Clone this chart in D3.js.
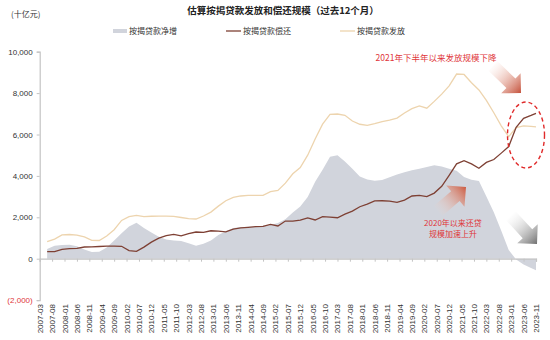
<!DOCTYPE html>
<html><head><meta charset="utf-8">
<script src="https://cdn.jsdelivr.net/npm/d3@7"></script>
<style>
body{margin:0;background:#fff;}
svg{display:block;font-family:"Liberation Sans","Noto Sans CJK SC",sans-serif;}
.cjk{font-family:"Noto Sans CJK SC","Liberation Sans",sans-serif;}
</style></head>
<body><svg id="c" width="550" height="340"></svg>
<script>
// ---------- data (十亿元, past-12-month sums, quarterly) ----------
const dates = ["2007-06","2007-09","2007-12","2008-03","2008-06","2008-09","2008-12","2009-03","2009-06","2009-09","2009-12",
"2010-03","2010-06","2010-09","2010-12","2011-03","2011-06","2011-09","2011-12","2012-03","2012-06","2012-09","2012-12",
"2013-03","2013-06","2013-09","2013-12","2014-03","2014-06","2014-09","2014-12","2015-03","2015-06","2015-09","2015-12",
"2016-03","2016-06","2016-09","2016-12","2017-03","2017-06","2017-09","2017-12","2018-03","2018-06","2018-09","2018-12",
"2019-03","2019-06","2019-09","2019-12","2020-03","2020-06","2020-09","2020-12","2021-03","2021-06","2021-09","2021-12",
"2022-03","2022-06","2022-09","2022-12","2023-03","2023-06","2023-09","2023-11"];
const netIncrease = [469,620,660,670,600,450,320,330,540,880,1230,1560,1740,1480,1260,1060,930,880,860,750,630,720,880,
1150,1330,1480,1520,1546,1560,1590,1630,1720,1900,2230,2520,2980,3720,4300,4927,4994,4690,4350,3970,3830,3760,3800,3930,
4070,4180,4270,4350,4430,4510,4450,4340,4250,3950,3810,3750,3000,2250,1350,420,-40,-280,-450,-560];
const repayment = [338,338,450,490,500,565,570,590,605,610,600,390,355,560,800,990,1120,1175,1100,1210,1290,1270,1350,
1335,1300,1430,1490,1515,1545,1560,1660,1580,1820,1820,1865,1975,1870,2030,2010,1980,2155,2300,2510,2635,2790,2800,2785,
2720,2830,3030,3060,3000,3170,3500,4030,4580,4735,4580,4370,4650,4790,5100,5420,6350,6780,6920,7020];
const issuance = [821,950,1150,1170,1140,1050,890,880,1100,1400,1850,2030,2096,2030,2050,2060,2055,2046,1990,1940,1917,2062,2250,
2540,2800,2960,3030,3060,3060,3060,3236,3300,3650,4100,4400,5000,5780,6500,6975,6990,6930,6650,6495,6445,6520,6620,6695,
6790,7040,7250,7380,7270,7600,7950,8350,8921,8900,8500,8150,7650,7050,6420,5900,6330,6420,6390,6370];

const seriesNames = ["按揭贷款净增","按揭贷款偿还","按揭贷款发放"];
const yTickValues = [-2000,0,2000,4000,6000,8000,10000];
const yTickLabels = ["(2,000)","0","2,000","4,000","6,000","8,000","10,000"];
const xTickLabels = ["2007-03","2007-08","2008-01","2008-06","2008-11","2009-04","2009-09","2010-02","2010-07","2010-12",
"2011-05","2011-10","2012-03","2012-08","2013-01","2013-06","2013-11","2014-04","2014-09","2015-02","2015-07","2015-12",
"2016-05","2016-10","2017-03","2017-08","2018-01","2018-06","2018-11","2019-04","2019-09","2020-02","2020-07","2020-12",
"2021-05","2021-10","2022-03","2022-08","2023-01","2023-06","2023-11"];
const title = "估算按揭贷款发放和偿还规模（过去12个月）";
const unitLabel = "(十亿元)";
const note1 = "2021年下半年以来发放规模下降";
const note2 = ["2020年以来还贷","规模加速上升"];

// ---------- setup ----------
const svg = d3.select("#c");
const defs = svg.append("defs");
const monthIndex = s => { const [y,m] = s.split("-").map(Number); return (y-2007)*12 + (m-3); };
const x = d3.scaleLinear().domain([0,200]).range([39.7,536]);
const y = d3.scaleLinear().domain([-2000,10000]).range([300.1,51.7]);

const colArea = "#d1d4dc", colRepay = "#7e4034", colIssue = "#edd4ae", red = "#e0353a";

// title
svg.append("text").attr("class","cjk").attr("x",283).attr("y",14).attr("text-anchor","middle")
  .attr("font-size",9.5).attr("font-weight","bold").attr("fill","#222").text(title);
svg.append("text").attr("class","cjk").attr("x",11).attr("y",17)
  .attr("font-size",8).attr("fill","#333").text(unitLabel);

// legend
const lg = svg.append("g").attr("class","cjk").attr("font-size",8).attr("fill","#333");
lg.append("rect").attr("x",113).attr("y",29).attr("width",14).attr("height",4).attr("fill",colArea);
lg.append("text").attr("x",129).attr("y",34).text(seriesNames[0]);
lg.append("line").attr("x1",226).attr("x2",241).attr("y1",31).attr("y2",31).attr("stroke",colRepay).attr("stroke-width",1.3);
lg.append("text").attr("x",243).attr("y",34).text(seriesNames[1]);
lg.append("line").attr("x1",340).attr("x2",355).attr("y1",31).attr("y2",31).attr("stroke",colIssue).attr("stroke-width",1.3);
lg.append("text").attr("x",357).attr("y",34).text(seriesNames[2]);

// area
const pts = dates.map((d,i)=>({m:monthIndex(d), net:netIncrease[i], rep:repayment[i], iss:issuance[i]}));
svg.append("path").datum(pts).attr("fill",colArea)
  .attr("d", d3.area().x(d=>x(d.m)).y0(y(0)).y1(d=>y(d.net)));

// y axis
const ya = svg.append("g").attr("transform",`translate(${x(0)},0)`)
  .call(d3.axisLeft(y).tickValues(yTickValues).tickSize(3).tickPadding(4)
    .tickFormat((d,i)=>yTickLabels[i]));
ya.select(".domain").attr("stroke","#c4c4c4").attr("stroke-width",1.2);
ya.selectAll(".tick line").attr("stroke","#c4c4c4");
ya.selectAll(".tick text").attr("font-size",8).attr("fill",(d)=>d<0?red:"#333")
  .attr("font-family","Liberation Sans, sans-serif");

// x axis at zero
const xa = svg.append("g").attr("transform",`translate(0,${y(0)})`)
  .call(d3.axisBottom(x).tickValues(xTickLabels.map(monthIndex)).tickSize(3).tickFormat(()=>""));
xa.select(".domain").attr("stroke","#c4c4c4").attr("stroke-width",1.2);
xa.selectAll(".tick line").attr("stroke","#c4c4c4");
// rotated labels at bottom
svg.append("g").selectAll("text").data(xTickLabels).join("text")
  .attr("transform",d=>`translate(${x(monthIndex(d))+3},304) rotate(-90)`)
  .attr("text-anchor","end").attr("font-size",8).attr("fill","#333")
  .attr("font-family","Liberation Sans, sans-serif").text(d=>d);

// lines
svg.append("path").datum(pts).attr("fill","none").attr("stroke",colIssue).attr("stroke-width",1.3)
  .attr("d", d3.line().x(d=>x(d.m)).y(d=>y(d.iss)));
svg.append("path").datum(pts).attr("fill","none").attr("stroke",colRepay).attr("stroke-width",1.3)
  .attr("d", d3.line().x(d=>x(d.m)).y(d=>y(d.rep)));

// annotations
function arrow(id, x1,y1,x2,y2, sw, hw, hl, c0, c1){
  const L = Math.hypot(x2-x1,y2-y1), ang = Math.atan2(y2-y1,x2-x1)*180/Math.PI;
  const g = defs.append("linearGradient").attr("id",id).attr("gradientUnits","userSpaceOnUse")
    .attr("x1",0).attr("y1",0).attr("x2",L).attr("y2",0);
  g.append("stop").attr("offset","0").attr("stop-color",c0).attr("stop-opacity",0.05);
  g.append("stop").attr("offset","1").attr("stop-color",c1).attr("stop-opacity",1);
  const p = [[0,-sw],[L-hl,-sw],[L-hl,-hw],[L,0],[L-hl,hw],[L-hl,sw],[0,sw]];
  svg.append("path").attr("transform",`translate(${x1},${y1}) rotate(${ang})`)
    .attr("d","M"+p.map(q=>q.join(",")).join("L")+"Z").attr("fill",`url(#${id})`);
}
arrow("ga1",493,66,521,93,6.5,14,14,"#f2c6b8","#c4503a");
arrow("ga2",438,211,466,187,6.5,14,14,"#f6d5c8","#cc5a40");
arrow("ga3",511,216,537,244,6.5,14,14,"#dddddd","#707070");

svg.append("text").attr("class","cjk").attr("x",436).attr("y",61).attr("text-anchor","middle")
  .attr("font-size",8.5).attr("fill",red).text(note1);
svg.append("g").attr("class","cjk").selectAll("text").data(note2).join("text")
  .attr("x",453).attr("y",(d,i)=>226+i*11).attr("text-anchor","middle")
  .attr("font-size",8).attr("fill",red).text(d=>d);

svg.append("ellipse").attr("cx",526).attr("cy",135).attr("rx",18.5).attr("ry",33)
  .attr("fill","none").attr("stroke","#e02a2a").attr("stroke-width",1.4).attr("stroke-dasharray","4,3");
</script></body></html>
